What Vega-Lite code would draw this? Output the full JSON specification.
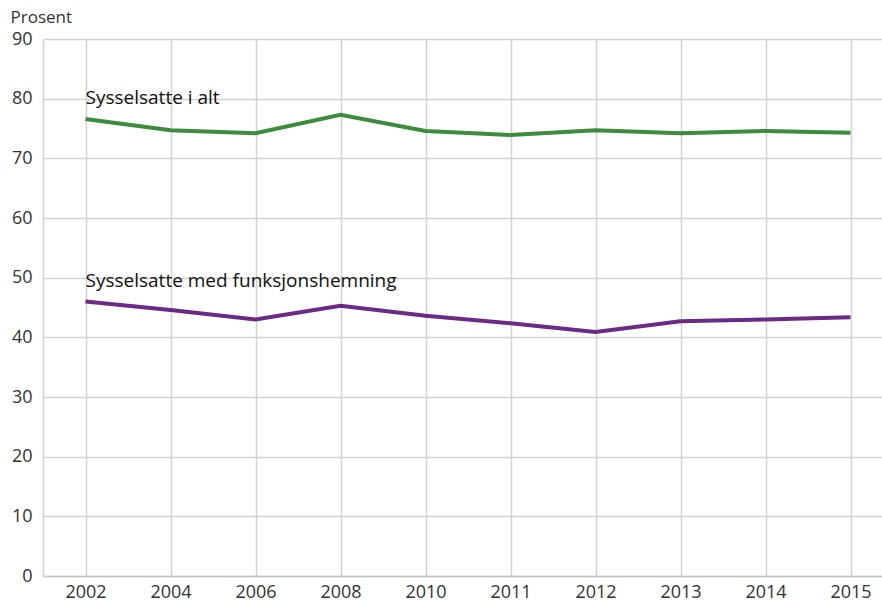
{
  "$schema": "https://vega.github.io/schema/vega-lite/v6.json",
  "autosize": {"type": "none"},
  "width": 839,
  "height": 537,
  "padding": {"left": 43, "top": 39, "right": 0, "bottom": 25},
  "background": "white",
  "config": {
    "font": "Open Sans",
    "view": {"stroke": null},
    "axis": {"gridColor": "#d2d2d2", "gridWidth": 1.5, "labelColor": "#333333", "labelFontSize": 18, "labelFont": "Open Sans", "ticks": false}
  },
  "data": {
    "values": [
      {"year": "2002", "series": "Sysselsatte i alt", "value": 76.6},
      {"year": "2004", "series": "Sysselsatte i alt", "value": 74.7},
      {"year": "2006", "series": "Sysselsatte i alt", "value": 74.2},
      {"year": "2008", "series": "Sysselsatte i alt", "value": 77.3},
      {"year": "2010", "series": "Sysselsatte i alt", "value": 74.6},
      {"year": "2011", "series": "Sysselsatte i alt", "value": 73.9},
      {"year": "2012", "series": "Sysselsatte i alt", "value": 74.7},
      {"year": "2013", "series": "Sysselsatte i alt", "value": 74.2},
      {"year": "2014", "series": "Sysselsatte i alt", "value": 74.6},
      {"year": "2015", "series": "Sysselsatte i alt", "value": 74.3},
      {"year": "2002", "series": "Sysselsatte med funksjonshemning", "value": 46.0},
      {"year": "2004", "series": "Sysselsatte med funksjonshemning", "value": 44.6},
      {"year": "2006", "series": "Sysselsatte med funksjonshemning", "value": 43.0},
      {"year": "2008", "series": "Sysselsatte med funksjonshemning", "value": 45.3},
      {"year": "2010", "series": "Sysselsatte med funksjonshemning", "value": 43.6},
      {"year": "2011", "series": "Sysselsatte med funksjonshemning", "value": 42.35},
      {"year": "2012", "series": "Sysselsatte med funksjonshemning", "value": 40.9},
      {"year": "2013", "series": "Sysselsatte med funksjonshemning", "value": 42.7},
      {"year": "2014", "series": "Sysselsatte med funksjonshemning", "value": 43.0},
      {"year": "2015", "series": "Sysselsatte med funksjonshemning", "value": 43.35}
    ]
  },
  "encoding": {
    "x": {
      "field": "year", "type": "ordinal",
      "scale": {"type": "point", "range": [0, 850], "padding": 0.5},
      "axis": {"title": null, "labelAngle": 0, "labelPadding": 7, "domainColor": "#c4c4c4", "domainWidth": 1.5, "grid": true}
    },
    "y": {
      "field": "value", "type": "quantitative",
      "scale": {"domain": [0, 90]},
      "axis": {"values": [0, 10, 20, 30, 40, 50, 60, 70, 80, 90], "title": "Prosent", "titleAngle": 0, "titleAlign": "left", "titleBaseline": "middle", "titleX": -33, "titleY": -22, "titleFontSize": 17, "titleFontWeight": "normal", "titleColor": "#333333", "titleFont": "Open Sans", "labelPadding": 11, "domainColor": "#d2d2d2", "domainWidth": 1.5}
    },
    "color": {
      "field": "series", "type": "nominal",
      "scale": {"domain": ["Sysselsatte i alt", "Sysselsatte med funksjonshemning"], "range": ["#3d8b3d", "#6a2a86"]},
      "legend": null
    }
  },
  "layer": [
    {"mark": {"type": "line", "strokeWidth": 4}},
    {
      "transform": [{"filter": "datum.year == '2002'"}],
      "mark": {"type": "text", "align": "left", "baseline": "middle", "dx": 0, "dy": -21, "fontSize": 19, "font": "Open Sans"},
      "encoding": {"text": {"field": "series"}, "color": {"value": "#111111"}}
    }
  ]
}
